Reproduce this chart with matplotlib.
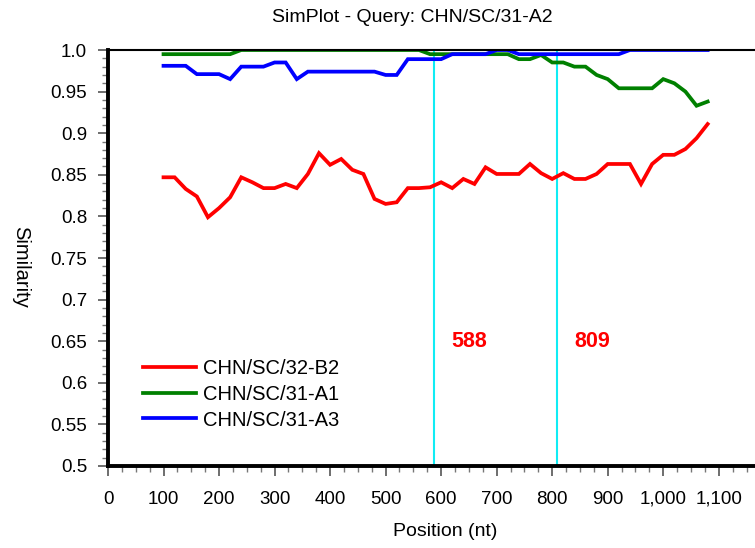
import matplotlib
matplotlib.use("Agg")
import matplotlib.pyplot as plt
from matplotlib.ticker import MultipleLocator, FixedLocator, FixedFormatter

plt.rcParams['font.family'] = ['Liberation Sans', 'DejaVu Sans']

positions = list(range(100, 1081, 20))

red_b2 = [0.847, 0.847, 0.833, 0.824, 0.799, 0.810, 0.823, 0.847, 0.841, 0.834,
          0.834, 0.839, 0.834, 0.851, 0.876, 0.862, 0.869, 0.856, 0.851, 0.821,
          0.815, 0.817, 0.834, 0.834, 0.835, 0.841, 0.834, 0.845, 0.839, 0.859,
          0.851, 0.851, 0.851, 0.863, 0.852, 0.845, 0.852, 0.845, 0.845, 0.851,
          0.863, 0.863, 0.863, 0.839, 0.863, 0.874, 0.874, 0.881, 0.894, 0.911]

green_a1 = [0.995, 0.995, 0.995, 0.995, 0.995, 0.995, 0.995, 1.0, 1.0, 1.0,
            1.0, 1.0, 1.0, 1.0, 1.0, 1.0, 1.0, 1.0, 1.0, 1.0,
            1.0, 1.0, 1.0, 1.0, 0.995, 0.995, 0.995, 0.995, 0.995, 0.995,
            0.995, 0.995, 0.989, 0.989, 0.994, 0.985, 0.985, 0.980, 0.980, 0.970,
            0.965, 0.954, 0.954, 0.954, 0.954, 0.965, 0.960, 0.950, 0.933, 0.938]

blue_a3 = [0.981, 0.981, 0.981, 0.971, 0.971, 0.971, 0.965, 0.980, 0.980, 0.980,
           0.985, 0.985, 0.965, 0.974, 0.974, 0.974, 0.974, 0.974, 0.974, 0.974,
           0.970, 0.970, 0.989, 0.989, 0.989, 0.989, 0.995, 0.995, 0.995, 0.995,
           1.0, 1.0, 0.995, 0.995, 0.995, 0.995, 0.995, 0.995, 0.995, 0.995,
           0.995, 0.995, 1.0, 1.0, 1.0, 1.0, 1.0, 1.0, 1.0, 1.0]

series_names = ["CHN/SC/32-B2", "CHN/SC/31-A1", "CHN/SC/31-A3"]
series_colors = ["#ff0000", "#008000", "#0000ff"]

breakpoints = [588, 809]
breakpoint_labels = ["588", "809"]

x_ticks = [0, 100, 200, 300, 400, 500, 600, 700, 800, 900, 1000, 1100]
x_tick_labels = ["0", "100", "200", "300", "400", "500", "600", "700", "800", "900", "1,000", "1,100"]
y_ticks = [0.5, 0.55, 0.6, 0.65, 0.7, 0.75, 0.8, 0.85, 0.9, 0.95, 1.0]
y_tick_labels = ["0.5", "0.55", "0.6", "0.65", "0.7", "0.75", "0.8", "0.85", "0.9", "0.95", "1.0"]

W, H = 755, 548
fig = plt.figure(figsize=(W / 100, H / 100), dpi=100)
ax = fig.add_axes([108 / W, 1 - 466 / H, 1 - 108 / W + 0.002, (466 - 50) / H])

for vals, name, col in zip([red_b2, green_a1, blue_a3], series_names, series_colors):
    ax.plot(positions, vals, color=col, lw=2.7, label=name, solid_joinstyle='miter')

for bp, lab in zip(breakpoints, breakpoint_labels):
    ax.axvline(bp, color="#10ecf4", lw=1.5, zorder=1)
    ax.text(bp + 31, 0.65, lab, color="#ff0000", fontsize=15.5, fontweight="bold",
            ha="left", va="center")

ax.set_xlim(0, 1168)
ax.set_ylim(0.5, 1.0)

ax.xaxis.set_major_locator(FixedLocator(x_ticks))
ax.xaxis.set_major_formatter(FixedFormatter(x_tick_labels))
ax.xaxis.set_minor_locator(MultipleLocator(25))
ax.yaxis.set_major_locator(FixedLocator(y_ticks))
ax.yaxis.set_major_formatter(FixedFormatter(y_tick_labels))
ax.yaxis.set_minor_locator(MultipleLocator(0.01))

ax.tick_params(axis='both', which='major', length=7, width=1.2, color="#555555",
               labelsize=13.5, direction='out', pad=8)
ax.tick_params(axis='both', which='minor', length=4, width=1.0, color="#777777", direction='out')
ax.tick_params(axis='x', which='major', pad=11)

ax.spines['left'].set_linewidth(2.8)
ax.spines['bottom'].set_linewidth(2.8)
ax.spines['top'].set_linewidth(1.5)
ax.spines['right'].set_visible(False)
for s in ax.spines.values():
    s.set_color("black")

fig.text(412 / W, 1 - 18 / H, "SimPlot - Query: CHN/SC/31-A2", fontsize=14,
         ha="center", va="center")
fig.text(445 / W, 1 - 532 / H, "Position (nt)", fontsize=14, ha="center", va="center")
fig.text(21 / W, 1 - 267 / H, "Similarity", fontsize=14.5, ha="center", va="center",
         rotation=-90)

leg = ax.legend(loc="upper left", bbox_to_anchor=(0.041, 0.276), frameon=False,
                fontsize=14.5, handlelength=2.65, handletextpad=0.35,
                labelspacing=0.33, borderaxespad=0)

fig.savefig("out.png", dpi=100)
